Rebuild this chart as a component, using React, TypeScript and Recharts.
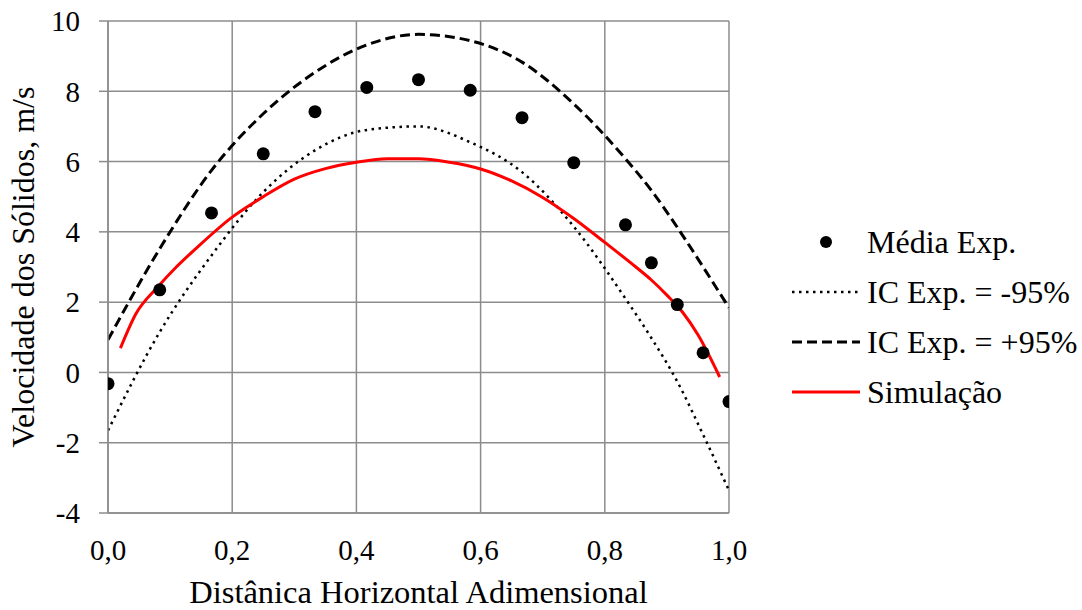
import { ComposedChart, Line, Scatter, XAxis, YAxis, CartesianGrid } from "recharts";

const pontosX = [0, 0.0833, 0.1667, 0.25, 0.3333, 0.4167, 0.5, 0.5833, 0.6667, 0.75, 0.8333, 0.875, 0.9167, 0.9583, 1.0];
const mediaExp = [-0.32, 2.35, 4.54, 6.22, 7.42, 8.11, 8.33, 8.03, 7.25, 5.97, 4.2, 3.12, 1.93, 0.56, -0.83];
const icMenos = [-1.65, 1.15, 3.33, 5.13, 6.32, 6.9, 7.0, 6.55, 5.7, 4.15, 2.1, 0.98, -0.26, -1.77, -3.36];
const icMais = [0.93, 3.52, 5.75, 7.36, 8.54, 9.32, 9.62, 9.44, 8.83, 7.64, 6.08, 5.18, 4.13, 3.0, 1.84];

const simX = [0.02, 0.045, 0.08, 0.11, 0.14, 0.2, 0.25, 0.3, 0.35, 0.4, 0.45, 0.5, 0.55, 0.6, 0.65, 0.7, 0.75, 0.8, 0.85, 0.875, 0.9, 0.925, 0.95, 0.985];
const simY = [0.69, 1.67, 2.43, 3.0, 3.5, 4.42, 5.0, 5.5, 5.8, 5.98, 6.08, 6.08, 5.98, 5.79, 5.45, 4.98, 4.38, 3.7, 3.0, 2.63, 2.2, 1.72, 1.07, -0.13];

const xTicks = [0, 0.2, 0.4, 0.6, 0.8, 1.0];
const yTicks = [-4, -2, 0, 2, 4, 6, 8, 10];

const nomes = ["Média Exp.", "IC Exp. = -95%", "IC Exp. = +95%", "Simulação"];

const media = pontosX.map((x, i) => ({ x, y: mediaExp[i] }));
const baixo = pontosX.map((x, i) => ({ x, y: icMenos[i] }));
const alto = pontosX.map((x, i) => ({ x, y: icMais[i] }));
const sim = simX.map((x, i) => ({ x, y: simY[i] }));

const Ponto = (props: any) => <circle cx={props.cx} cy={props.cy} r={6.5} fill="#000" />;

const Legenda = () => (
  <div style={{ position: "absolute", left: 790, top: 217, fontSize: 32, color: "#000", whiteSpace: "nowrap" }}>
    {nomes.map((n, i) => (
      <div key={n} style={{ display: "flex", alignItems: "center", height: 50 }}>
        <svg width={77} height={20}>
          {i === 0 && <circle cx={36} cy={10} r={6} fill="#000" />}
          {i === 1 && <line x1={2} y1={10} x2={70} y2={10} stroke="#000" strokeWidth={2.5} strokeDasharray="2.5 4.5" />}
          {i === 2 && <line x1={2} y1={10} x2={70} y2={10} stroke="#000" strokeWidth={3} strokeDasharray="10 5" />}
          {i === 3 && <line x1={2} y1={10} x2={70} y2={10} stroke="#ff0000" strokeWidth={3} />}
        </svg>
        <span>{n}</span>
      </div>
    ))}
  </div>
);

export default function App() {
  return (
    <div style={{ position: "absolute", left: 0, top: 0, width: 1082, height: 610, background: "#fff" }}>
      <ComposedChart width={1082} height={610} margin={{ top: 21, right: 353, bottom: 0, left: 0 }}>
        <CartesianGrid stroke="#8c8c8c" strokeWidth={1.5} />
        <XAxis
          type="number"
          dataKey="x"
          domain={[0, 1]}
          ticks={xTicks}
          allowDataOverflow
          height={97}
          tickSize={0}
          tickMargin={26}
          stroke="#8c8c8c"
          strokeWidth={1.5}
          tick={{ fill: "#000", fontSize: 29 }}
          tickFormatter={(v: number) => v.toFixed(1).replace(".", ",")}
          label={{ value: "Distânica Horizontal Adimensional", position: "insideBottom", offset: 7, fill: "#000", fontSize: 32.5 }}
        />
        <YAxis
          type="number"
          domain={[-4, 10]}
          ticks={yTicks}
          allowDataOverflow
          width={108}
          tickSize={9}
          tickMargin={19}
          stroke="#8c8c8c"
          strokeWidth={1.5}
          tick={{ fill: "#000", fontSize: 29 }}
          label={{ value: "Velocidade dos Sólidos, m/s", angle: -90, position: "insideLeft", offset: 23, style: { textAnchor: "middle" }, fill: "#000", fontSize: 32 }}
        />
        <Line data={baixo} dataKey="y" type="monotone" stroke="#000" strokeWidth={2.5} strokeDasharray="2.5 4.5" dot={false} isAnimationActive={false} />
        <Line data={alto} dataKey="y" type="monotone" stroke="#000" strokeWidth={3} strokeDasharray="10 5" dot={false} isAnimationActive={false} />
        <Line data={sim} dataKey="y" type="monotone" stroke="#ff0000" strokeWidth={3} dot={false} isAnimationActive={false} />
        <Scatter data={media} dataKey="y" shape={Ponto} isAnimationActive={false} />
      </ComposedChart>
      <Legenda />
    </div>
  );
}
